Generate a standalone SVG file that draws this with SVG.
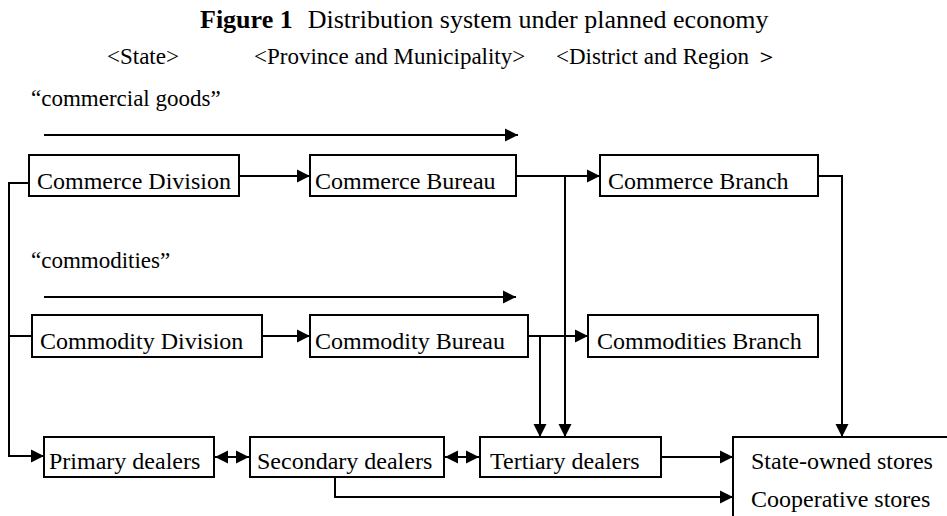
<svg xmlns="http://www.w3.org/2000/svg" width="947" height="516" viewBox="0 0 947 516">
<defs>
<marker id="ah" markerUnits="userSpaceOnUse" markerWidth="14" markerHeight="14" refX="13" refY="6.5" orient="auto-start-reverse" viewBox="0 0 14 13">
<path d="M0,0 L13,6.5 L0,13 z" fill="#000"/>
</marker>
<style>
text{font-family:"Liberation Serif","Times New Roman",serif;fill:#000}
.t{font-size:24px}
.h{font-size:23px}
.box{fill:#fff;stroke:#000;stroke-width:2}
.c{fill:none;stroke:#000;stroke-width:2}
</style>
</defs>
<rect width="947" height="516" fill="#fff"/>
<text x="200" y="28" style="font-size:26px"><tspan font-weight="bold">Figure 1</tspan><tspan dx="15">Distribution system under planned economy</tspan></text>
<text class="h" x="107" y="64">&lt;State&gt;</text>
<text class="h" x="254" y="64">&lt;Province and Municipality&gt;</text>
<text class="h" x="556" y="64">&lt;District and Region ＞</text>
<text class="h" x="31" y="106">“commercial goods”</text>
<text class="h" x="31" y="268">“commodities”</text>
<g id="connectors">
<path class="c" d="M44,135 H518" marker-end="url(#ah)"/>
<path class="c" d="M44,297 H516" marker-end="url(#ah)"/>
<path class="c" d="M29,183 H9 V456 H44" marker-end="url(#ah)"/>
<path class="c" d="M9,336 H32"/>
<path class="c" d="M239,176 H310" marker-end="url(#ah)"/>
<path class="c" d="M516,176 H600" marker-end="url(#ah)"/>
<path class="c" d="M565,176 V437" marker-end="url(#ah)"/>
<path class="c" d="M818,176 H842 V437" marker-end="url(#ah)"/>
<path class="c" d="M262,336 H310" marker-end="url(#ah)"/>
<path class="c" d="M528,336 H588" marker-end="url(#ah)"/>
<path class="c" d="M540,336 V437" marker-end="url(#ah)"/>
<path class="c" d="M215,457 H249" marker-start="url(#ah)" marker-end="url(#ah)"/>
<path class="c" d="M445,457 H479" marker-start="url(#ah)" marker-end="url(#ah)"/>
<path class="c" d="M661,457 H733" marker-end="url(#ah)"/>
<path class="c" d="M335,477 V497 H733" marker-end="url(#ah)"/>
</g>
<g id="commerce-division"><rect class="box" x="29" y="155" width="210" height="41"/><text class="t" x="37" y="189">Commerce Division</text></g>
<g id="commerce-bureau"><rect class="box" x="310" y="155" width="206" height="41"/><text class="t" x="315" y="189">Commerce Bureau</text></g>
<g id="commerce-branch"><rect class="box" x="600" y="155" width="218" height="41"/><text class="t" x="608" y="189">Commerce Branch</text></g>
<g id="commodity-division"><rect class="box" x="32" y="315" width="230" height="42"/><text class="t" x="40" y="349">Commodity Division</text></g>
<g id="commodity-bureau"><rect class="box" x="310" y="315" width="218" height="42"/><text class="t" x="315" y="349">Commodity Bureau</text></g>
<g id="commodities-branch"><rect class="box" x="588" y="315" width="230" height="42"/><text class="t" x="597" y="349">Commodities Branch</text></g>
<g id="primary-dealers"><rect class="box" x="44" y="437" width="170" height="40"/><text class="t" x="49" y="469">Primary dealers</text></g>
<g id="secondary-dealers"><rect class="box" x="250" y="437" width="194" height="40"/><text class="t" x="257" y="469">Secondary dealers</text></g>
<g id="tertiary-dealers"><rect class="box" x="480" y="437" width="181" height="40"/><text class="t" x="490" y="469">Tertiary dealers</text></g>
<g id="stores"><rect class="box" x="733" y="437" width="230" height="100"/><text class="t" x="751" y="469">State-owned stores</text><text class="t" x="751" y="507">Cooperative stores</text></g>
</svg>
